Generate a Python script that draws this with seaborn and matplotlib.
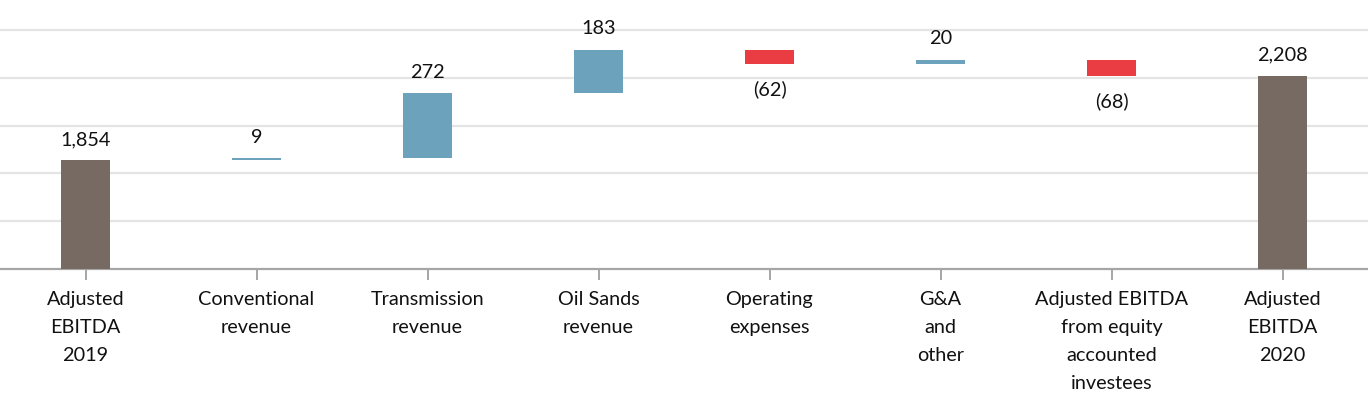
import matplotlib
matplotlib.use("Agg")
import matplotlib.pyplot as plt
import seaborn as sns
import numpy as np

categories = ["Adjusted\nEBITDA\n2019", "Conventional\nrevenue", "Transmission\nrevenue",
              "Oil Sands\nrevenue", "Operating\nexpenses", "G&A\nand\nother",
              "Adjusted EBITDA\nfrom equity\naccounted\ninvestees", "Adjusted\nEBITDA\n2020"]
values = [1854, 9, 272, 183, -62, 20, -68, 2208]
kinds = ["total", "delta", "delta", "delta", "delta", "delta", "delta", "total"]
value_labels = ["1,854", "9", "272", "183", "(62)", "20", "(68)", "2,208"]

BASE = 1400
C_TOTAL = "#776a63"
C_POS = "#6ca2bb"
C_NEG = "#ea3c43"

# waterfall geometry from data
bottoms, heights, colors = [], [], []
running = 0
for v, k in zip(values, kinds):
    if k == "total":
        bottoms.append(BASE)
        heights.append(v - BASE)
        colors.append(C_TOTAL)
        running = v
    else:
        start = running
        running += v
        bottoms.append(min(start, running))
        heights.append(abs(v))
        colors.append(C_POS if v >= 0 else C_NEG)

sns.set_theme(style="white")
plt.rcParams['font.family'] = ['Lato', 'DejaVu Sans']

fig = plt.figure(figsize=(13.68, 3.94), dpi=100)
ax = fig.add_axes([0.0, 1 - 269 / 394, 1.0, (269 - 25.2) / 394])

sns.barplot(x=categories, y=heights, bottom=bottoms, color=C_POS, width=0.29,
            saturation=1, ax=ax, linewidth=0, zorder=3)
for p, c in zip(ax.patches, colors):
    p.set_facecolor(c)
    p.set_edgecolor(c)

ax.set_xlim(-0.5, 7.5)
ax.set_ylim(BASE, 2420)
ax.set_yticks([1600, 1800, 2000, 2200, 2400])
ax.yaxis.grid(True, color="#e4e4e4", linewidth=1.6, zorder=0)
ax.set_axisbelow(True)
ax.tick_params(axis="y", left=False, labelleft=False)
ax.tick_params(axis="x", bottom=True, length=8, width=1.4, color="#a6a6a6",
               pad=8, labelsize=14.3, labelcolor="#111111")
for lab in ax.get_xticklabels():
    lab.set_linespacing(1.79)
for s in ["left", "right", "top"]:
    ax.spines[s].set_visible(False)
ax.spines["bottom"].set_color("#a6a6a6")
ax.spines["bottom"].set_linewidth(1.6)
ax.set_xlabel("")
ax.set_ylabel("")

for i, (v, b, h, lbl) in enumerate(zip(values, bottoms, heights, value_labels)):
    if v >= 0:
        ax.annotate(lbl, (i, b + h), xytext=(0, 15), textcoords="offset points",
                    ha="center", va="center", fontsize=14.3, color="#111111", annotation_clip=False)
    else:
        ax.annotate(lbl, (i, b), xytext=(0, -18), textcoords="offset points",
                    ha="center", va="center", fontsize=14.3, color="#111111", annotation_clip=False)

fig.savefig("out.png", dpi=100)
